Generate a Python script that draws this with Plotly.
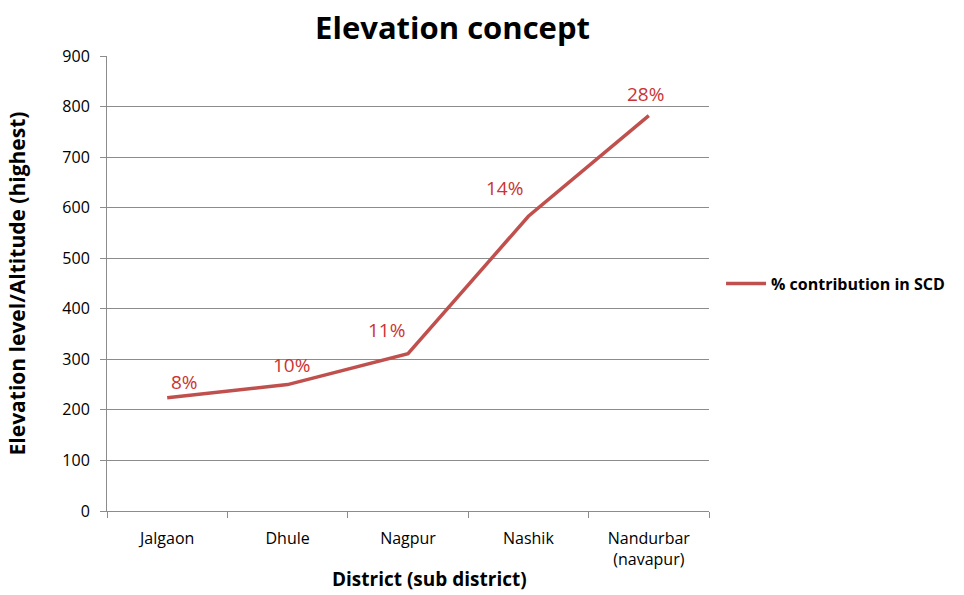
import plotly.graph_objects as go

districts = ["Jalgaon", "Dhule", "Nagpur", "Nashik", "Nandurbar<br>(navapur)"]
elevation = [224, 250, 311, 583, 782]
contribution_labels = ["8%", "10%", "11%", "14%", "28%"]
label_xshift = [17, 4, -22, -24, -3]
label_yshift = [16, 20, 24, 28, 22]

LINE = "#C0504D"
GRID = "#8c8c8c"
FONT = "'Open Sans', Lato, sans-serif"

fig = go.Figure()
fig.add_trace(go.Scatter(
    x=districts, y=elevation, mode="lines",
    line=dict(color=LINE, width=3.5),
    name="<b>% contribution in SCD</b>",
))

for xv, yv, t, dx, dy in zip(districts, elevation, contribution_labels, label_xshift, label_yshift):
    fig.add_annotation(x=xv, y=yv, text=t, showarrow=False,
                       xshift=dx, yshift=dy,
                       font=dict(family=FONT, size=19, color="#CC3333"))

# x-axis title as annotation (slightly right of plot centre, as in reference)
fig.add_annotation(x=0.535, y=-0.15, xref="paper", yref="paper",
                   xanchor="center", yanchor="middle", showarrow=False,
                   text="<b>District (sub district)</b>",
                   font=dict(family=FONT, size=19, color="black"))

fig.update_layout(
    width=964, height=595,
    margin=dict(l=107, r=255, t=56, b=84, autoexpand=False),
    paper_bgcolor="white", plot_bgcolor="white",
    font=dict(family=FONT, color="#000000", size=14),
    title=dict(text="<b>Elevation concept</b>", x=0.574, xanchor="center",
               y=0.953, yanchor="middle", xref="paper",
               font=dict(family=FONT, size=31, color="black")),
    showlegend=True,
    legend=dict(x=1.02, y=0.5, xanchor="left", yanchor="middle",
                font=dict(family=FONT, size=16, color="black"),
                itemwidth=40, bgcolor="rgba(0,0,0,0)"),
)
fig.update_xaxes(
    type="category", range=[-0.5, len(districts) - 0.5], automargin=False,
    showgrid=False, showline=True, linecolor=GRID, linewidth=1,
    ticks="outside", tickson="boundaries", ticklen=6, tickcolor=GRID,
    ticklabelstandoff=13,
    tickfont=dict(family=FONT, size=16, color="black"),
)
fig.update_yaxes(
    range=[0, 900], dtick=100, showgrid=True, gridcolor=GRID, gridwidth=1,
    showline=True, linecolor=GRID, linewidth=1, automargin=False,
    ticks="outside", ticklen=6, tickcolor=GRID,
    ticklabelstandoff=7,
    tickfont=dict(family=FONT, size=16, color="black"),
    zeroline=False,
    title=dict(text="<b>Elevation level/Altitude (highest)</b>", standoff=30,
               font=dict(family=FONT, size=21, color="black")),
)

fig.write_html("out.html")
